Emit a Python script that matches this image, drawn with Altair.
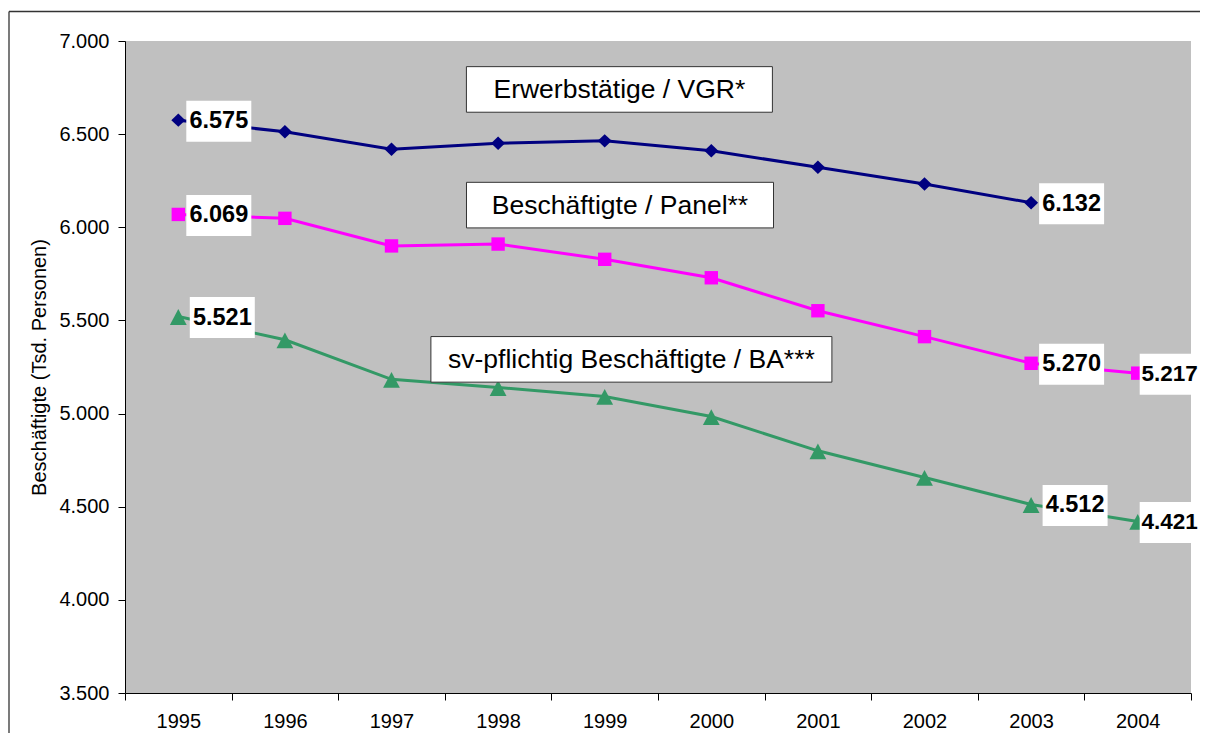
import altair as alt
import pandas as pd

# ---------------- data ----------------
years = ["1995", "1996", "1997", "1998", "1999", "2000", "2001", "2002", "2003", "2004"]
series_names = ["Erwerbstätige / VGR*", "Beschäftigte / Panel**", "sv-pflichtig Beschäftigte / BA***"]
erwerb = [6575, 6513, 6419, 6451, 6464, 6411, 6322, 6232, 6132, None]
panel = [6069, 6048, 5900, 5910, 5828, 5729, 5552, 5413, 5270, 5217]
ba = [5521, 5396, 5184, 5140, 5092, 4984, 4800, 4657, 4512, 4421]
labelled_years = [["1995", "2003"], ["1995", "2003", "2004"], ["1995", "2003", "2004"]]
y_ticks = [3500, 4000, 4500, 5000, 5500, 6000, 6500, 7000]
y_title = "Beschäftigte (Tsd. Personen)"

colors = ["#000080", "#FF00FF", "#339966"]
# marker outlines (diamond, square, triangle), unit coordinates scaled by sqrt(size)/2
shapes = [
    "M-0.7,0L0,-0.67L0.7,0L0,0.67Z",
    "M-0.67,-0.67L0.67,-0.67L0.67,0.67L-0.67,0.67Z",
    "M0,-0.74L0.84,0.84L-0.84,0.84Z",
]

rows = []
for name, vals, lab in zip(series_names, [erwerb, panel, ba], labelled_years):
    for yr, v in zip(years, vals):
        if v is None:
            continue
        rows.append({
            "series": name,
            "year": yr,
            "value": v,
            "txt": f"{v:,}".replace(",", "."),
            "labelled": yr in lab,
        })
df = pd.DataFrame(rows)

W, H = 1066, 652
PAD_L, PAD_T, PAD_R, PAD_B = 117, 33, 9, 40
FONT = "Arial"

x_enc = alt.X("year:O", sort=years,
              scale=alt.Scale(type="band", domain=years, paddingInner=0, paddingOuter=0),
              axis=alt.Axis(title=None, labelAngle=0, tickBand="extent", tickSize=7,
                            labelPadding=11, labelFontSize=20, labelFont=FONT,
                            labelColor="#000000", domainColor="#000000", tickColor="#000000",
                            grid=False))
y_enc = alt.Y("value:Q",
              scale=alt.Scale(domain=[3500, 7000], nice=False, zero=False),
              axis=alt.Axis(values=y_ticks, title=y_title, tickSize=7, labelPadding=9,
                            labelFontSize=20, labelFont=FONT, labelColor="#000000",
                            labelExpr="replace(format(datum.value, ',.0f'), ',', '.')",
                            titleFontSize=20, titleFont=FONT, titleFontWeight="normal",
                            titleColor="#000000", titleX=-86, titleY=H / 2,
                            titleBaseline="middle", titleAngle=270,
                            domainColor="#000000", tickColor="#000000", grid=False))
color_enc = alt.Color("series:N", scale=alt.Scale(domain=series_names, range=colors), legend=None)

base = alt.Chart(df)

lines = base.mark_line(strokeWidth=3).encode(x=x_enc, y=y_enc, color=color_enc, detail="series:N")
points = base.mark_point(filled=True, opacity=1, size=400, strokeWidth=0).encode(
    x=x_enc, y=y_enc, color=color_enc,
    shape=alt.Shape("series:N", scale=alt.Scale(domain=series_names, range=shapes), legend=None),
)


def box_path(left, right, top, bottom, s):
    return (f"M{left / s:.4f},{top / s:.4f}L{right / s:.4f},{top / s:.4f}"
            f"L{right / s:.4f},{bottom / s:.4f}L{left / s:.4f},{bottom / s:.4f}Z")


# value labels with white boxes, three offset groups
label_layers = []
groups = [
    ("datum.labelled && datum.year != '2004' && datum.series != '%s'" % series_names[2], 8, 65, 23.5),
    ("datum.labelled && datum.year != '2004' && datum.series == '%s'" % series_names[2], 11.5, 65, 23.5),
    ("datum.labelled && datum.year == '2004'", 2, 60, 22.5),
]
S = 50.0
for cond, off, bw, fs in groups:
    path = box_path(off, off + bw, -19.5, 21.5, S)
    sub = base.transform_filter(cond)
    label_layers.append(
        sub.mark_point(shape=path, size=(2 * S) ** 2, filled=True, fill="white",
                       opacity=1, strokeWidth=0).encode(x=x_enc, y=y_enc)
    )
    label_layers.append(
        sub.mark_text(font=FONT, fontSize=fs, fontWeight="bold", color="black",
                      align="center", baseline="middle", dx=off + bw / 2, dy=1).encode(
            x=x_enc, y=y_enc, text="txt:N")
    )

# series name boxes (anchored to the data space)
ann_year = ["1999", "1999", "1999"]
ann_value = [6740, 6119, 5291]
ann_offsets = [14.7, 15.3, 26.7]
ann_widths = [306, 307, 401]
ann_layers = []
for name, yr, val, off, bw in zip(series_names, ann_year, ann_value, ann_offsets, ann_widths):
    adf = pd.DataFrame({"year": [yr], "value": [val], "txt": [name]})
    s = 220.0
    path = box_path(off - bw / 2, off + bw / 2, -22.8, 22.8, s)
    ac = alt.Chart(adf)
    ann_layers.append(
        ac.mark_point(shape=path, size=(2 * s) ** 2, filled=False, fill="white", fillOpacity=1,
                      stroke="#333333", strokeWidth=1, opacity=1).encode(x=x_enc, y=y_enc)
    )
    ann_layers.append(
        ac.mark_text(font=FONT, fontSize=26.5, color="black", align="center",
                     baseline="middle", dx=off, dy=1).encode(x=x_enc, y=y_enc, text="txt:N")
    )

# outer chart frame (decorative)
frame_df = pd.DataFrame({"k": [0]})
frame_left = alt.Chart(frame_df).mark_rule(color="#333333", strokeWidth=1.3).encode(
    x=alt.value(-116), y=alt.value(-29.5), y2=alt.value(H + PAD_B))
frame_top = alt.Chart(frame_df).mark_rule(color="#333333", strokeWidth=1.3).encode(
    x=alt.value(-116), x2=alt.value(W + PAD_R), y=alt.value(-29.5))

chart = alt.layer(
    lines, points, *ann_layers, *label_layers, frame_left, frame_top
).properties(
    width=W, height=H,
    padding={"left": PAD_L, "top": PAD_T, "right": PAD_R, "bottom": PAD_B},
    autosize=alt.AutoSizeParams(type="none"),
    background="white",
).configure_view(
    fill="#C0C0C0", strokeWidth=0
)

chart.save("out.html", embed_options={"renderer": "svg", "actions": False})
